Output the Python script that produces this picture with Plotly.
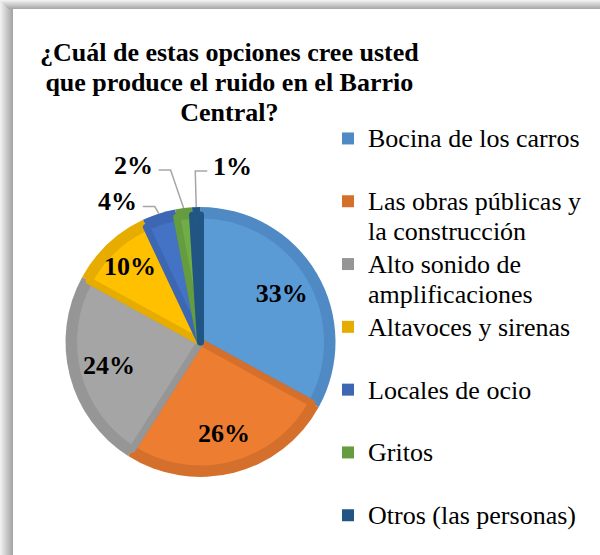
import math
import textwrap
import plotly.graph_objects as go

categories = ["Bocina de los carros", "Las obras públicas y la construcción",
              "Alto sonido de amplificaciones", "Altavoces y sirenas",
              "Locales de ocio", "Gritos", "Otros (las personas)"]
values = [33, 26, 24, 10, 4, 2, 1]
fill_colors = ["#5B9BD5", "#ED7D31", "#A5A5A5", "#FFC000", "#4472C4", "#70AD47", "#255E91"]
edge_colors = ["#508AC4", "#D5702C", "#969696", "#E6AD00", "#3D67B2", "#659C40", "#215583"]
title_lines = ["¿Cuál de estas opciones cree usted",
               "que produce el ruido en el Barrio", "Central?"]

W, H = 600, 555
CX, CY, R = 200.5, 342, 135   # pie centre / radius in px
BAND = 8
SERIF = "Liberation Serif"
# offsets (px) of the small outside labels from their slice rim point
out_offsets = [(-41, -12), (-50, -43), (36, -41)]


def dom(r):
    return dict(x=[(CX - r) / W, (CX + r) / W],
                y=[1 - (CY + r) / H, 1 - (CY - r) / H])


def big(s):
    return '<span style="font-size:26px">' + s + '</span>'


# every legend entry takes two lines so the entries are evenly spaced
legend_labels = []
for i, c in enumerate(categories):
    lines = textwrap.wrap(c, 20)
    if len(lines) == 1 and i < len(categories) - 1:
        lines.append(" ")
    legend_labels.append("<br>".join(big(l) for l in lines))

fig = go.Figure()
# outer darker ring (also gives legend swatches)
fig.add_trace(go.Pie(labels=legend_labels, values=values, sort=False,
                     direction="clockwise", rotation=0, domain=dom(R),
                     marker=dict(colors=edge_colors, line=dict(width=0)),
                     textinfo="none", hoverinfo="skip"))
# lighter inner fill
fig.add_trace(go.Pie(labels=legend_labels, values=values, sort=False,
                     direction="clockwise", rotation=0, domain=dom(R - BAND),
                     marker=dict(colors=fill_colors, line=dict(color=edge_colors, width=7)),
                     textinfo="none", hoverinfo="skip", showlegend=False))
# labels for the big slices
fig.add_trace(go.Pie(labels=legend_labels, values=values, sort=False,
                     direction="clockwise", rotation=0, domain=dom(R), hole=0.4,
                     marker=dict(colors=["rgba(0,0,0,0)"] * len(values), line=dict(width=0)),
                     texttemplate="%{percent:.0%}",
                     textposition=["inside" if v >= 10 else "none" for v in values],
                     insidetextorientation="horizontal",
                     textfont=dict(family=SERIF, size=26, color="black", weight="bold"),
                     hoverinfo="skip", showlegend=False))

# small slices: outside labels with leader lines
total = sum(values)
cum = 0
k = 0
shapes = []
annotations = []
for v in values:
    mid = (cum + v / 2) / total
    cum += v
    if v >= 10:
        continue
    ang = 2 * math.pi * mid
    rx, ry = CX + R * math.sin(ang), CY - R * math.cos(ang)
    dx, dy = out_offsets[k]
    k += 1
    lx, ly = rx + dx, ry + dy
    annotations.append(dict(text="<b>%d%%</b>" % round(100 * v / total), x=lx / W, y=1 - ly / H,
                            xref="paper", yref="paper", xanchor="center", yanchor="middle",
                            showarrow=False, font=dict(family=SERIF, size=26, color="black")))
    side = 1 if dx < 0 else -1
    sx, sy = lx + side * 25, ly + 5
    ex = sx + side * 12
    path = "M %f,%f L %f,%f L %f,%f" % (sx / W, 1 - sy / H, ex / W, 1 - sy / H, rx / W, 1 - ry / H)
    shapes.append(dict(type="path", path=path, xref="paper", yref="paper",
                       line=dict(color="#A6A6A6", width=1.5)))

# title
annotations.append(dict(text="<br>".join("<b>" + big(t) + "</b>" for t in title_lines),
                        x=229 / W, y=1 - 36 / H, xref="paper", yref="paper",
                        xanchor="center", yanchor="top", showarrow=False,
                        font=dict(family=SERIF, size=23, color="black")))

# frame shadow
for i in range(13):
    g = int(240 - 75 * i / 12)
    shapes.append(dict(type="rect", xref="paper", yref="paper", x0=i / W, x1=(i + 1) / W,
                       y0=0, y1=1, line=dict(width=0), fillcolor="rgb(%d,%d,%d)" % (g, g, g)))
for i in range(9):
    g = int(240 - 70 * i / 8)
    shapes.append(dict(type="rect", xref="paper", yref="paper", x0=i / W, x1=1,
                       y0=1 - (i + 1) / H, y1=1 - i / H, line=dict(width=0),
                       fillcolor="rgb(%d,%d,%d)" % (g, g, g)))

fig.update_layout(
    width=W, height=H,
    margin=dict(l=0, r=0, t=0, b=0),
    paper_bgcolor="white", plot_bgcolor="white",
    font=dict(family=SERIF, color="black"),
    shapes=shapes, annotations=annotations,
    legend=dict(x=328 / W, y=1 - 117 / H, xanchor="left", yanchor="top",
                font=dict(family=SERIF, size=23, color="black"),
                valign="top", bgcolor="rgba(0,0,0,0)", tracegroupgap=0),
)

fig.write_html("out.html", config={"displayModeBar": False},
               post_script="document.body.style.margin='0px';")
